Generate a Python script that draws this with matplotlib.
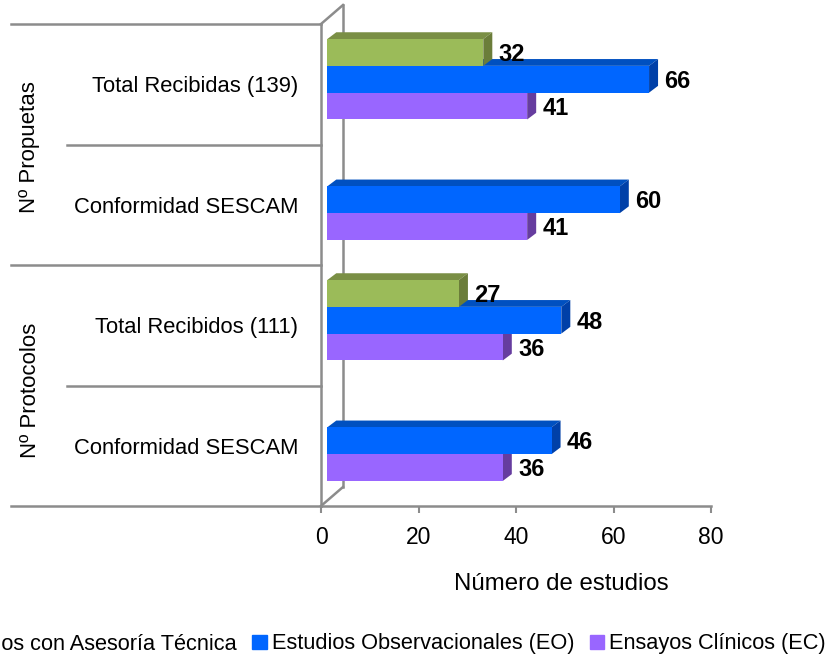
import matplotlib
matplotlib.use("Agg")
import matplotlib.pyplot as plt
from matplotlib.patches import Polygon, Patch

plt.rcParams['font.family'] = ['Liberation Sans', 'DejaVu Sans']

categories = ["Conformidad SESCAM", "Total Recibidos (111)", "Conformidad SESCAM", "Total Recibidas (139)"]
group_names = ["Nº Protocolos", "Nº Propuetas"]
asesoria = [None, 27, None, 32]
observacionales = [46, 48, 60, 66]
ensayos = [36, 36, 41, 41]
series_names = ["Estudios con Asesoría Técnica", "Estudios Observacionales (EO)", "Ensayos Clínicos (EC)"]
x_ticks = [0, 20, 40, 60, 80]

GRAY = "#8c8c8c"
W, H = 831, 660
fig = plt.figure(figsize=(W / 100, H / 100), dpi=100)
ax = fig.add_axes([321 / W, (H - 506) / H, 390 / W, 482 / H])
ax.set_xlim(0, 80)
ax.set_ylim(0, 4)
px_x = 80 / 390
px_y = 4 / 482

bar_h = 26.8 * px_y
base = 6.3 * px_x
dx, dy = 9 * px_x, 6.8 * px_y
center = 0.5 + 5.0 * px_y

styles = [
    (ensayos, -1, "#9966FF", "#7F52D6", "#663D9F"),
    (observacionales, 0, "#0066FF", "#0050C0", "#0040A8"),
    (asesoria, 1, "#9BBB59", "#7A8F45", "#6B7D3A"),
]

# 3D chart walls
back_x, back_y = 22 * px_x, 19 * px_y
ax.plot([back_x, back_x], [back_y, 4 + back_y], color=GRAY, lw=1.8, clip_on=False, zorder=1)
ax.plot([0, back_x], [4, 4 + back_y], color=GRAY, lw=1.8, clip_on=False, zorder=1)
ax.plot([0, back_x], [0, back_y], color=GRAY, lw=1.8, clip_on=False, zorder=1)

z = 3
for vals, slot, front, top, side in styles:
    for i, v in enumerate(vals):
        if v is None:
            continue
        y0 = i + center + (slot - 0.5) * bar_h
        y1 = y0 + bar_h
        x0 = base
        x1 = base + v
        ax.add_patch(Polygon([(x0, y1), (x0 + dx, y1 + dy), (x1 + dx, y1 + dy), (x1, y1)],
                             closed=True, fc=top, ec="none", zorder=z, clip_on=False))
        ax.add_patch(Polygon([(x1, y0), (x1 + dx, y0 + dy), (x1 + dx, y1 + dy), (x1, y1)],
                             closed=True, fc=side, ec="none", zorder=z, clip_on=False))
        ax.barh(y0 + bar_h / 2, v, height=bar_h, left=x0, color=front, zorder=z + 0.5)
        ax.text(x1 + 15.5 * px_x, y0 + bar_h / 2 - 2 * px_y, str(v), fontsize=17, fontweight='bold',
                color='black', va='center', ha='left', zorder=20, clip_on=False)
    z += 1

for s in ['top', 'right']:
    ax.spines[s].set_visible(False)
for s in ['left', 'bottom']:
    ax.spines[s].set_color(GRAY)
    ax.spines[s].set_linewidth(1.8)

ax.set_xticks(x_ticks)
ax.set_xticklabels([str(t) for t in x_ticks], fontsize=16.5)
ax.tick_params(axis='x', length=5, width=1.5, color=GRAY, pad=9.5)
ax.set_yticks([i + 0.5 for i in range(4)])
ax.set_yticklabels(categories, fontsize=15.8)
ax.tick_params(axis='y', length=0, pad=16.5)
ax.set_xlabel("Número de estudios", fontsize=17.3, x=(561 - 321) / 390, labelpad=17)

# multi-level category separators
for y, start_px in [(4, 11), (3, 67), (2, 11), (1, 67), (0, 11)]:
    ax.plot([(start_px - 321) * px_x, 0], [y, y], color=GRAY, lw=1.8, clip_on=False, zorder=1)

ax.text((30 - 321) * px_x, 0.96, group_names[0], rotation=90, ha='center', va='center',
        fontsize=16, clip_on=False)
ax.text((30 - 321) * px_x, 2.98, group_names[1], rotation=90, ha='center', va='center',
        fontsize=16, clip_on=False)

handles = [Patch(color=c[2]) for c in reversed(styles)]
fig.legend(handles, series_names, ncols=3, loc='center right', bbox_to_anchor=(826 / W, (H - 644) / H),
           frameon=False, fontsize=15.7, handlelength=0.65, handleheight=0.65,
           handletextpad=0.25, columnspacing=0.7, borderpad=0, borderaxespad=0)

fig.savefig("out.png", dpi=100)
